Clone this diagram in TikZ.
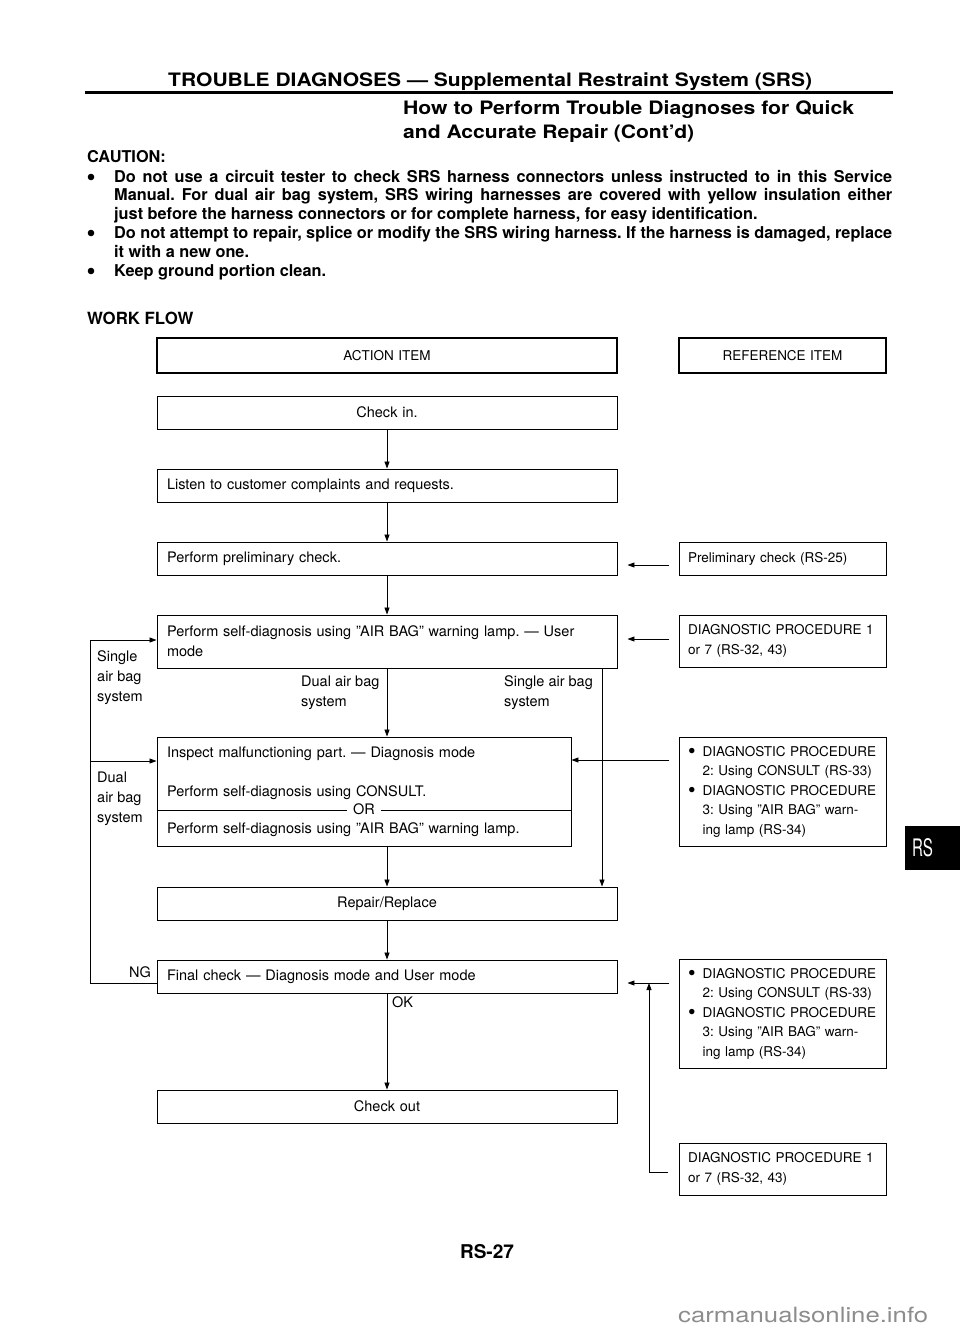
\documentclass[tikz,border=0pt]{standalone}
\usepackage{fontspec}
\usepackage{graphicx}
\setmainfont{TeX Gyre Heros}[Ligatures=TeX]
\usetikzlibrary{arrows.meta}
\frenchspacing
\newcommand\flowf{\fontsize{14.5}{20}\selectfont}
\newcommand\reff{\fontsize{13.5}{19.5}\selectfont}
\newcommand\cautf{\fontsize{16.3}{19}\selectfont\bfseries}
\newcommand\headf{\fontsize{18.5}{20}\selectfont\bfseries}
\newcommand\bul{\makebox[14.5pt][l]{\raisebox{-2.2pt}{\scalebox{1.6}{\textbullet}}}}
\newcommand\ind{\hspace*{14.5pt}}
\definecolor{wm}{gray}{0.55}
\begin{document}
\begin{tikzpicture}[x=1pt,y=-1pt,
  box/.style={draw,line width=0.9pt,font=\flowf,inner xsep=10pt,inner ysep=0pt,minimum height=33pt,align=left},
  wide/.style={box,text width=440pt},
  rbox/.style={box,font=\reff,inner xsep=9pt,text width=189pt},
  head/.style={box,line width=1.8pt,font=\reff,align=center,minimum height=35pt},
  arr/.style={-{Triangle[length=7pt,width=5pt]},line width=0.8pt},
  ln/.style={line width=0.8pt},
  lab/.style={font=\flowf,inner sep=0pt,align=left},
  cl/.style={font=\cautf,inner sep=0pt,anchor=west,text height=11.7pt,text depth=0pt},
  hd/.style={font=\headf,inner sep=0pt,anchor=west,text height=13.3pt,text depth=0pt}
]
\useasboundingbox (0,0) rectangle (960,1332);

% ---------- heading ----------
\node[hd] (title) at (168,80) {\resizebox{644pt}{\height}{TROUBLE DIAGNOSES — Supplemental Restraint System (SRS)}};
\draw[line width=3pt] (85,93) -- (893,93);
\node[hd] (sub1) at (403,108) {\resizebox{451pt}{\height}{How to Perform Trouble Diagnoses for Quick}};
\node[hd] (sub2) at (403,132) {\resizebox{291pt}{\height}{and Accurate Repair (Cont'd)}};

% ---------- caution ----------
\node[cl] (caut) at (87,157) {CAUTION:};
\node[cl] (c1) at (114,177) {\makebox[778pt][s]{Do not use a circuit tester to check SRS harness connectors unless instructed to in this Service}};
\node[cl] (c2) at (114,195) {\makebox[778pt][s]{Manual. For dual air bag system, SRS wiring harnesses are covered with yellow insulation either}};
\node[cl] (c3) at (114,214) {just before the harness connectors or for complete harness, for easy identification.};
\node[cl] (c4) at (114,233) {\makebox[778pt][s]{Do not attempt to repair, splice or modify the SRS wiring harness. If the harness is damaged, replace}};
\node[cl] (c5) at (114,252) {it with a new one.};
\node[cl] (c6) at (114,271) {Keep ground portion clean.};
\fill (91,177) circle (3.3pt);
\fill (91,233) circle (3.3pt);
\fill (91,271) circle (3.3pt);
\node[cl,font=\fontsize{16.8}{19}\selectfont\bfseries] (wf) at (87,319) {WORK FLOW};

% ---------- flow boxes ----------
\node[head,text width=440pt] (action) at (387,355.5) {ACTION ITEM};
\node[head,text width=189pt,inner xsep=9pt] (refitem) at (782.5,355.5) {REFERENCE ITEM};
\node[wide,align=center] (checkin) at (387,412.5) {Check in.};
\node[wide] (listen) at (387,485.5) {Listen to customer complaints and requests.};
\node[wide] (prelim) at (387,558.5) {Perform preliminary check.};
\node[rbox] (prelimref) at (782.5,558.5) {Preliminary check (RS-25)};
\node[wide,minimum height=53pt] (selfdiag) at (387,641.5) {Perform self-diagnosis using ''AIR BAG'' warning lamp. — User\\mode};
\node[rbox,minimum height=52pt] (dp1) at (782.5,641) {DIAGNOSTIC PROCEDURE 1\\or 7 (RS-32, 43)};
\node[box,text width=394pt,minimum height=109pt] (inspect) at (364,791.5) {Inspect malfunctioning part. — Diagnosis mode\\[19pt]Perform self-diagnosis using CONSULT.\\[17pt]Perform self-diagnosis using ''AIR BAG'' warning lamp.};
\node[rbox,minimum height=109pt] (dp23) at (782.5,791.5) {\bul DIAGNOSTIC PROCEDURE\\\ind 2: Using CONSULT (RS-33)\\\bul DIAGNOSTIC PROCEDURE\\\ind 3: Using ''AIR BAG'' warn-\\\ind ing lamp (RS-34)};
\node[wide,align=center] (repair) at (387,903.5) {Repair/Replace};
\node[wide] (final) at (387,976.5) {Final check — Diagnosis mode and User mode};
\node[rbox,minimum height=109pt] (dp23b) at (782.5,1013.5) {\bul DIAGNOSTIC PROCEDURE\\\ind 2: Using CONSULT (RS-33)\\\bul DIAGNOSTIC PROCEDURE\\\ind 3: Using ''AIR BAG'' warn-\\\ind ing lamp (RS-34)};
\node[wide,align=center] (checkout) at (387,1106.5) {Check out};
\node[rbox,minimum height=52pt] (dp1b) at (782.5,1169) {DIAGNOSTIC PROCEDURE 1\\or 7 (RS-32, 43)};

% OR divider
\coordinate (orl) at (0,810);
\draw[ln] (inspect.west |- orl) -- (inspect.east |- orl);
\node[font=\flowf,fill=white,inner xsep=6pt,inner ysep=1pt] (or) at (364,809.5) {OR};

% ---------- main connectors ----------
\draw[arr] (checkin) -- (listen);
\draw[arr] (listen) -- (prelim);
\draw[arr] (prelim) -- (selfdiag);
\draw[arr] (selfdiag.south) -- (selfdiag.south |- inspect.north);
\draw[arr] (inspect.south -| repair.north) -- (repair.north);
\draw[arr] (repair) -- (final);
\draw[arr] (final) -- (checkout);
\coordinate (rv) at (602,0);
\draw[arr] (selfdiag.south -| rv) -- (repair.north -| rv);

% ---------- reference arrows ----------
\coordinate (a1) at (669,565);
\coordinate (a2) at (669,639);
\coordinate (a3) at (669,760);
\coordinate (a4) at (669,983);
\draw[arr,shorten >=10pt] (a1) -- (a1 -| prelim.east);
\draw[arr,shorten >=10pt] (a2) -- (a2 -| selfdiag.east);
\draw[arr] (a3) -- (a3 -| inspect.east);
\draw[arr,shorten >=10pt] (a4) -- (a4 -| final.east);
\coordinate (b1) at (668,1172);
\coordinate (b0) at (649,1172);
\draw[arr] (b1) -- (b0) -- (b0 |- a4);

% ---------- left loop ----------
\coordinate (l1) at (90,640);
\coordinate (l2) at (90,761);
\coordinate (l3) at (90,983);
\draw[arr] (final.west |- l3) -- (l3) -- (l1) -- (l1 -| selfdiag.west);
\draw[arr] (l2) -- (l2 -| inspect.west);

% ---------- labels ----------
\node[lab,anchor=west] (lsingle) at (97,678) {Single\\air bag\\system};
\node[lab,anchor=west] (ldual) at (97,799) {Dual\\air bag\\system};
\node[lab,anchor=west] (ldab) at (301,693) {Dual air bag\\system};
\node[lab,anchor=west] (lsab) at (504,693) {Single air bag\\system};
\node[lab,anchor=east] (ng) at (151,972) {NG};
\node[lab,anchor=west] (ok) at (392,1002) {OK};

% ---------- page furniture ----------
\node[font=\fontsize{19}{20}\selectfont\bfseries,inner sep=0pt] (pg) at (487,1252) {RS-27};
\node[fill=black,minimum width=56pt,minimum height=44pt,inner sep=0pt,anchor=north west] (tab) at (905,826) {};
\node[text=white,inner sep=0pt,font=\fontsize{25}{25}\selectfont] (tabtxt) at (922.5,848) {\resizebox{21pt}{18pt}{RS}};
\node[text=wm,inner sep=0pt,anchor=base west,font=\fontsize{21}{22}\selectfont] (wmk) at (678,1322) {\resizebox{250pt}{\height}{carmanualsonline.info}};
\end{tikzpicture}
\end{document}
